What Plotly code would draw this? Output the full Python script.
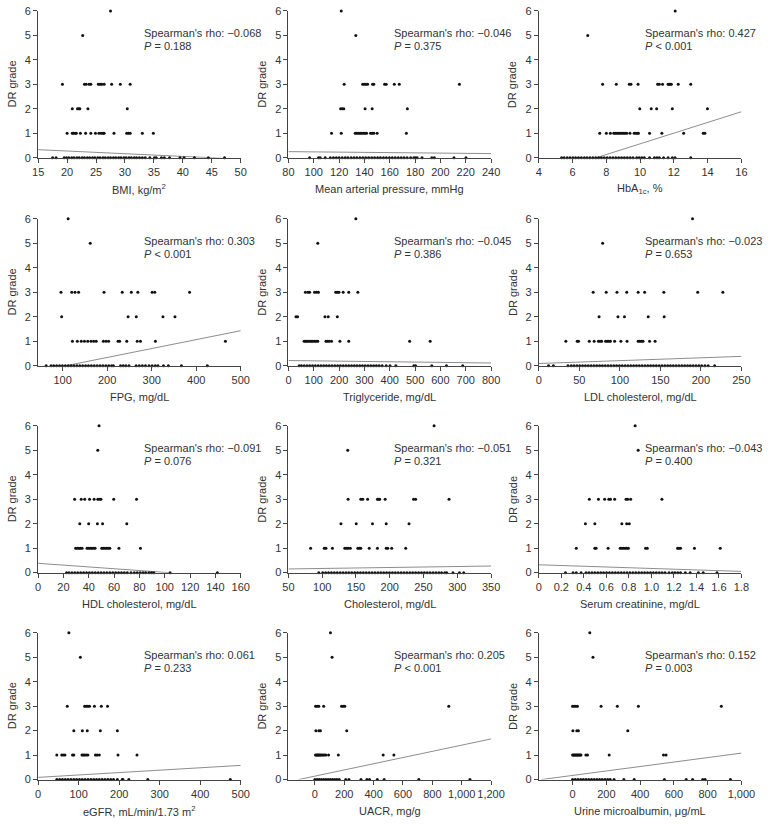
import plotly.graph_objects as go

# ---------------- DATA ----------------
# x values of points for each DR grade (0,1,2,3,5,6), one set per panel
bmi_g0 = [17.5, 18.1, 19.5, 19.9, 20.3, 20.8, 21.2, 21.7, 22.1, 22.6, 23.0, 23.5, 23.9, 24.4, 24.8, 25.3, 25.7, 26.2, 26.6, 27.1, 27.5, 28.0, 28.4, 28.9, 29.3, 29.8, 30.2, 30.7, 31.1, 31.6, 32.0, 32.5, 33.0, 33.5, 34.3, 35.1, 35.4, 36.3, 36.8, 37.7, 39.5, 40.2, 42.0, 44.4, 47.2]
bmi_g1 = [20.0, 20.9, 21.1, 21.4, 21.6, 22.3, 23.2, 24.1, 24.9, 25.5, 25.9, 26.2, 26.4, 28.1, 30.3, 30.6, 30.9, 33.0, 34.9]
bmi_g2 = [20.9, 21.8, 22.0, 22.2, 23.6, 30.4]
bmi_g3 = [19.2, 23.0, 23.3, 23.8, 24.1, 25.4, 25.7, 26.0, 26.4, 27.7, 29.2, 30.9]
bmi_g5 = [22.7]
bmi_g6 = [27.5]

map_g0 = [96.7, 103.7, 105.0, 109.0, 113.0, 115.5, 117.8, 120.0, 122.4, 124.8, 127.0, 129.5, 131.8, 134.0, 136.4, 138.7, 141.0, 143.3, 145.7, 148.0, 150.4, 152.6, 155.0, 157.3, 159.7, 162.0, 164.3, 166.7, 169.0, 171.3, 173.7, 176.5, 179.0, 180.3, 181.6, 185.5, 193.2, 195.2, 210.7, 220.2]
map_g1 = [114.0, 121.7, 132.7, 134.0, 135.3, 136.6, 137.9, 139.2, 140.5, 141.7, 144.8, 146.1, 147.4, 150.0, 173.1]
map_g2 = [121.2, 122.4, 123.7, 140.5, 146.1, 173.9]
map_g3 = [124.0, 138.6, 139.9, 141.2, 142.5, 146.4, 147.4, 155.9, 157.2, 163.6, 167.5, 215.0]
map_g5 = [133.2]
map_g6 = [121.7]

hba_g0 = [5.35, 5.5, 5.68, 5.85, 6.02, 6.18, 6.35, 6.52, 6.7, 6.86, 7.03, 7.2, 7.37, 7.54, 7.71, 7.88, 8.05, 8.22, 8.39, 8.56, 8.73, 8.9, 9.07, 9.24, 9.41, 9.58, 9.8, 9.95, 10.1, 10.25, 10.56, 10.85, 11.0, 11.14, 11.39, 11.66, 11.91, 12.07, 13.0]
hba_g1 = [7.61, 8.0, 8.24, 8.44, 8.53, 8.63, 8.73, 8.82, 8.92, 9.02, 9.11, 9.21, 9.4, 9.65, 9.75, 9.85, 9.9, 10.56, 11.29, 12.58, 13.74, 13.84]
hba_g2 = [9.98, 10.66, 10.98, 11.91, 13.99]
hba_g3 = [7.78, 8.59, 9.36, 9.46, 9.88, 11.04, 11.14, 11.33, 11.66, 11.72, 11.78, 11.85, 12.26, 13.0]
hba_g5 = [6.9]
hba_g6 = [12.08]

fpg_g0 = [63, 74, 80, 86.5, 93, 99.5, 106, 112.5, 119, 125.5, 132, 138.5, 145, 151.5, 158, 164.5, 171, 177.5, 184, 190.5, 197, 203.5, 210, 214, 230, 236, 242, 249, 265, 272, 279, 286, 294, 301, 308, 314, 326.5, 337.5, 366.7, 425]
fpg_g1 = [122.0, 133.0, 141.8, 149.0, 156.4, 163.7, 169.6, 175.4, 191.5, 197.4, 203.2, 224.4, 228.0, 244.1, 267.5, 274.8, 308.4, 465.6]
fpg_g2 = [97.8, 247.0, 265.4, 325.3, 352.3]
fpg_g3 = [96.3, 120.5, 127.8, 135.8, 192.9, 233.8, 254.3, 268.9, 301.0, 306.9, 385.0]
fpg_g5 = [162]
fpg_g6 = [112.4]

tg_g0 = [42.4, 51, 62, 73, 84, 95, 106, 117, 128, 139, 150, 161, 172, 183, 194, 205, 216, 227, 238, 249, 260, 270, 281, 292, 303, 314, 325, 336, 347, 358, 370, 386, 401, 424, 495, 502, 566, 624, 688]
tg_g1 = [61.7, 67, 72, 78, 85, 90, 96, 103, 109, 115.8, 148, 154, 161, 170, 203, 238, 478.5, 559.5]
tg_g2 = [29.6, 36, 144, 157, 193]
tg_g3 = [66.9, 77.2, 83.6, 102.9, 110.6, 118.3, 186.5, 193, 199.4, 216, 238, 274]
tg_g5 = [115.8]
tg_g6 = [266]

ldl_g0 = [12, 18, 36, 40, 43.5, 47, 50.5, 54, 57.5, 61, 64.5, 68, 71.5, 75, 78.5, 82, 85.5, 89, 92.5, 96, 99.5, 103, 106.5, 110, 113.5, 117, 120.5, 124, 127.5, 131, 134.5, 138, 141.5, 145, 148.5, 152, 155.5, 159, 162.5, 166, 169.5, 173, 176.5, 180, 183.5, 187, 190.5, 194, 197.5, 201, 205, 209, 217]
ldl_g1 = [33.4, 47.4, 49.0, 62.3, 68.3, 73.6, 75.6, 77.6, 82.4, 84.4, 86.4, 88.4, 93.6, 101.3, 108.9, 122.6, 124.6, 126.6, 128.6, 136.7, 143.5]
ldl_g2 = [74.4, 97.7, 105.7, 135.0, 154.7]
ldl_g3 = [67.1, 83.2, 96.5, 108.5, 122.6, 130.6, 154.3, 196.1, 227.1]
ldl_g5 = [78.8]
ldl_g6 = [189.7]

hdl_g0 = [22.4, 24.4, 26.7, 29, 31.3, 33.6, 35.9, 38.2, 40.5, 42.8, 45.1, 47.4, 49.7, 52, 54.3, 56.6, 58.9, 61.2, 63.5, 65.8, 68.1, 70.4, 73.3, 75.9, 78.2, 80.5, 82.8, 84.9, 87.5, 89.5, 91.3, 104.2, 141.5]
hdl_g1 = [29.6, 30.9, 32.2, 33.4, 34.7, 38.6, 39.9, 41.2, 42.4, 43.7, 45.0, 50.2, 51.4, 52.7, 54.0, 55.3, 56.6, 63.8, 80.8]
hdl_g2 = [32.9, 39.9, 46.8, 50.9, 70.0]
hdl_g3 = [28.8, 34.0, 36.8, 40.6, 44.2, 47.1, 48.4, 49.6, 59.7, 77.7]
hdl_g5 = [47.1]
hdl_g6 = [48.1]

chol_g0 = [94.9, 100.6, 105, 109.3, 113.6, 117.9, 122.2, 126.5, 130.8, 135.1, 139.4, 143.7, 148, 152.3, 156.6, 160.9, 165.2, 169.5, 173.8, 178.1, 182.4, 186.7, 191, 195.3, 199.6, 203.9, 208.2, 212.5, 216.8, 221.1, 225.4, 229.7, 234, 238.3, 242.6, 246.9, 251.2, 255.5, 259.8, 264.1, 268.4, 272.7, 276.7, 281.5, 284.4, 293.6, 303.2, 309.5]
chol_g1 = [82.8, 103.0, 105.5, 115.1, 133.4, 135.9, 138.3, 141.6, 152.7, 155.1, 157.1, 169.6, 181.7, 194.7, 197.1, 202.9, 223.6]
chol_g2 = [127.7, 150.3, 174.4, 194.7, 228.5]
chol_g3 = [138.3, 157.1, 160.0, 167.2, 181.7, 183.6, 185.0, 193.2, 235.2, 238.3, 287.8]
chol_g5 = [137.8]
chol_g6 = [265.6]

cr_g0 = [0.237, 0.304, 0.333, 0.376, 0.42, 0.446, 0.472, 0.498, 0.524, 0.55, 0.576, 0.602, 0.628, 0.654, 0.68, 0.706, 0.732, 0.758, 0.784, 0.81, 0.836, 0.862, 0.888, 0.914, 0.94, 0.966, 0.992, 1.018, 1.044, 1.07, 1.096, 1.122, 1.157, 1.186, 1.21, 1.235, 1.259, 1.302, 1.345, 1.418, 1.461, 1.583]
cr_g1 = [0.333, 0.498, 0.509, 0.616, 0.723, 0.738, 0.752, 0.767, 0.781, 0.796, 0.949, 0.964, 1.233, 1.244, 1.259, 1.383, 1.612]
cr_g2 = [0.414, 0.498, 0.738, 0.781, 0.804]
cr_g3 = [0.449, 0.53, 0.585, 0.622, 0.637, 0.674, 0.775, 0.79, 0.816, 1.094]
cr_g5 = [0.883]
cr_g6 = [0.856]

egfr_g0 = [46, 53, 60, 67, 74, 81, 88, 95, 102, 109, 116, 123, 130, 137, 144, 151, 158, 165, 172, 179, 186, 195.5, 207.6, 209.2, 223.7, 270.6, 474.2]
egfr_g1 = [46.0, 58.2, 62.2, 66.2, 84.8, 88.0, 108.2, 111.5, 114.7, 118.7, 122.8, 141.4, 145.4, 151.0, 197.1, 243.9]
egfr_g2 = [88.0, 109.0, 121.2, 153.5, 195.5]
egfr_g3 = [71.9, 114.7, 118.7, 122.8, 126.8, 138.9, 155.9, 171.2]
egfr_g5 = [104.2]
egfr_g6 = [75.9]

uacr_g0 = [0, 15, 30, 45, 60, 75, 90, 105, 120, 135, 150, 166, 210, 232, 314, 354, 372, 425, 471.6, 708, 1056]
uacr_g1 = [4, 10, 16, 22, 28, 34, 40, 48, 56, 64, 74, 93, 159.4, 465, 538]
uacr_g2 = [6.6, 26.6, 37.6, 217]
uacr_g3 = [4.4, 15.5, 26.6, 59.8, 181.5, 192.6, 203.7, 912]
uacr_g5 = [117]
uacr_g6 = [106]

umalb_g0 = [0, 16, 32, 48, 64, 80, 96, 112, 128, 144, 160, 176, 192, 208, 223, 246, 304, 365, 544, 673, 711, 771, 785, 935]
umalb_g1 = [0, 5, 10, 15, 20, 25, 30, 35, 40, 45, 50, 79, 88.5, 217, 538.5, 554]
umalb_g2 = [2, 25, 34.6, 327]
umalb_g3 = [0, 9.6, 19.2, 28.8, 169, 265, 390, 881]
umalb_g5 = [121]
umalb_g6 = [102]

dr_grades = [0, 1, 2, 3, 5, 6]

# fitted (regression) line end points, as drawn
bmi_fit_x, bmi_fit_y = [15, 50], [0.33, -0.055]
map_fit_x, map_fit_y = [80, 240], [0.25, 0.17]
hba_fit_x, hba_fit_y = [7.4, 16], [0.0, 1.88]
fpg_fit_x, fpg_fit_y = [108, 500], [0.0, 1.43]
tg_fit_x, tg_fit_y = [0, 800], [0.21, 0.11]
ldl_fit_x, ldl_fit_y = [0, 250], [0.09, 0.38]
hdl_fit_x, hdl_fit_y = [0, 103], [0.38, 0.0]
chol_fit_x, chol_fit_y = [50, 350], [0.15, 0.27]
cr_fit_x, cr_fit_y = [0, 1.8], [0.32, 0.05]
egfr_fit_x, egfr_fit_y = [0, 500], [0.09, 0.58]
uacr_fit_x, uacr_fit_y = [-111, 1200], [0.0, 1.66]
umalb_fit_x, umalb_fit_y = [-186, 1000], [0.0, 1.08]

# axis titles, statistics and ticks
x_titles = ["BMI, kg/m<sup>2</sup>", "Mean arterial pressure, mmHg", "HbA<sub>1c</sub>, %",
            "FPG, mg/dL", "Triglyceride, mg/dL", "LDL cholesterol, mg/dL",
            "HDL cholesterol, mg/dL", "Cholesterol, mg/dL", "Serum creatinine, mg/dL",
            "eGFR, mL/min/1.73 m<sup>2</sup>", "UACR, mg/g", "Urine microalbumin, μg/mL"]
rho_texts = ["−0.068", "−0.046", "0.427", "0.303", "−0.045", "−0.023",
             "−0.091", "−0.051", "−0.043", "0.061", "0.205", "0.152"]
p_texts = ["= 0.188", "= 0.375", "&lt; 0.001", "&lt; 0.001", "= 0.386", "= 0.653",
           "= 0.076", "= 0.321", "= 0.400", "= 0.233", "&lt; 0.001", "= 0.003"]
x_ranges = [[15, 50], [80, 240], [4, 16], [45, 500], [0, 800], [0, 250],
            [0, 160], [50, 350], [0, 1.8], [0, 500], [-180, 1200], [-200, 1000]]
bmi_ticks = [15, 20, 25, 30, 35, 40, 45, 50]
map_ticks = [80, 100, 120, 140, 160, 180, 200, 220, 240]
hba_ticks = [4, 6, 8, 10, 12, 14, 16]
fpg_ticks = [100, 200, 300, 400, 500]
tg_ticks = [0, 100, 200, 300, 400, 500, 600, 700, 800]
ldl_ticks = [0, 50, 100, 150, 200, 250]
hdl_ticks = [0, 20, 40, 60, 80, 100, 120, 140, 160]
chol_ticks = [50, 100, 150, 200, 250, 300, 350]
cr_ticks = [0, 0.2, 0.4, 0.6, 0.8, 1.0, 1.2, 1.4, 1.6, 1.8]
cr_ticktext = ["0", "0.2", "0.4", "0.6", "0.8", "1.0", "1.2", "1.4", "1.6", "1.8"]
egfr_ticks = [0, 100, 200, 300, 400, 500]
uacr_ticks = [0, 200, 400, 600, 800, 1000, 1200]
uacr_ticktext = ["0", "200", "400", "600", "800", "1,000", "1,200"]
umalb_ticks = [0, 200, 400, 600, 800, 1000]
umalb_ticktext = ["0", "200", "400", "600", "800", "1,000"]
y_ticks = [0, 1, 2, 3, 4, 5, 6]

# ---------------- FIGURE ----------------
groups = [
    (bmi_g0, bmi_g1, bmi_g2, bmi_g3, bmi_g5, bmi_g6),
    (map_g0, map_g1, map_g2, map_g3, map_g5, map_g6),
    (hba_g0, hba_g1, hba_g2, hba_g3, hba_g5, hba_g6),
    (fpg_g0, fpg_g1, fpg_g2, fpg_g3, fpg_g5, fpg_g6),
    (tg_g0, tg_g1, tg_g2, tg_g3, tg_g5, tg_g6),
    (ldl_g0, ldl_g1, ldl_g2, ldl_g3, ldl_g5, ldl_g6),
    (hdl_g0, hdl_g1, hdl_g2, hdl_g3, hdl_g5, hdl_g6),
    (chol_g0, chol_g1, chol_g2, chol_g3, chol_g5, chol_g6),
    (cr_g0, cr_g1, cr_g2, cr_g3, cr_g5, cr_g6),
    (egfr_g0, egfr_g1, egfr_g2, egfr_g3, egfr_g5, egfr_g6),
    (uacr_g0, uacr_g1, uacr_g2, uacr_g3, uacr_g5, uacr_g6),
    (umalb_g0, umalb_g1, umalb_g2, umalb_g3, umalb_g5, umalb_g6),
]
fits = [(bmi_fit_x, bmi_fit_y), (map_fit_x, map_fit_y), (hba_fit_x, hba_fit_y),
        (fpg_fit_x, fpg_fit_y), (tg_fit_x, tg_fit_y), (ldl_fit_x, ldl_fit_y),
        (hdl_fit_x, hdl_fit_y), (chol_fit_x, chol_fit_y), (cr_fit_x, cr_fit_y),
        (egfr_fit_x, egfr_fit_y), (uacr_fit_x, uacr_fit_y), (umalb_fit_x, umalb_fit_y)]
tick_vals = [bmi_ticks, map_ticks, hba_ticks, fpg_ticks, tg_ticks, ldl_ticks,
             hdl_ticks, chol_ticks, cr_ticks, egfr_ticks, uacr_ticks, umalb_ticks]
tick_texts = [None, None, None, None, None, None, None, None, cr_ticktext, None,
              uacr_ticktext, umalb_ticktext]

W, H = 770, 824
col_left = [33, 290, 547]
row_top = [5, 216, 426, 636]
plot_w, plot_h = 208, 149
FONT = "Arial, 'Liberation Sans', sans-serif"
TXT = "#333333"
AX = "#444444"

fig = go.Figure()
layout = dict(width=W, height=H, margin=dict(l=0, r=0, t=0, b=0),
              paper_bgcolor="white", plot_bgcolor="white", showlegend=False,
              font=dict(family=FONT, size=11, color=TXT))
annotations = []

for i in range(12):
    r, c = divmod(i, 3)
    k = i + 1
    xa = "x" if k == 1 else f"x{k}"
    ya = "y" if k == 1 else f"y{k}"
    xs, ys = [], []
    for grade, vals in zip(dr_grades, groups[i]):
        xs += vals
        ys += [grade] * len(vals)
    fx, fy = fits[i]
    fig.add_trace(go.Scatter(x=fx, y=fy, mode="lines", xaxis=xa, yaxis=ya,
                             line=dict(color="#808080", width=0.9), hoverinfo="skip"))
    fig.add_trace(go.Scatter(x=xs, y=ys, mode="markers", xaxis=xa, yaxis=ya,
                             cliponaxis=False,
                             marker=dict(size=3, color="#111111", line=dict(width=0))))

    x0 = col_left[c] / W
    x1 = (col_left[c] + plot_w) / W
    y1 = 1 - row_top[r] / H
    y0 = 1 - (row_top[r] + plot_h) / H
    axis_style = dict(showline=True, linecolor=AX, linewidth=1, ticks="outside",
                      ticklen=4, tickwidth=1, tickcolor=AX, showgrid=False,
                      zeroline=False, fixedrange=True,
                      tickfont=dict(family=FONT, size=11, color=TXT))
    xdict = dict(domain=[x0, x1], range=x_ranges[i], anchor=ya, tickmode="array",
                 tickvals=tick_vals[i], tickangle=0, **axis_style)
    if tick_texts[i] is not None:
        xdict["ticktext"] = tick_texts[i]
    ydict = dict(domain=[y0, y1], range=[0, 6], anchor=xa, tickmode="array",
                 tickvals=y_ticks, **axis_style)
    layout["xaxis" if k == 1 else f"xaxis{k}"] = xdict
    layout["yaxis" if k == 1 else f"yaxis{k}"] = ydict

    # statistics text
    annotations.append(dict(xref=f"{xa} domain", yref=f"{ya} domain", x=0, y=1,
                            xanchor="left", yanchor="middle", xshift=104, yshift=-22,
                            text=f"Spearman's rho: {rho_texts[i]}", showarrow=False,
                            font=dict(size=11, color=TXT)))
    annotations.append(dict(xref=f"{xa} domain", yref=f"{ya} domain", x=0, y=1,
                            xanchor="left", yanchor="middle", xshift=104, yshift=-35,
                            text=f"<i>P</i> {p_texts[i]}", showarrow=False,
                            font=dict(size=11, color=TXT)))
    # x axis title
    annotations.append(dict(xref=f"{xa} domain", yref=f"{ya} domain", x=0.5, y=0,
                            xanchor="center", yanchor="middle", yshift=-31,
                            text=x_titles[i], showarrow=False,
                            font=dict(size=11, color=TXT)))
    # y axis title
    annotations.append(dict(xref=f"{xa} domain", yref=f"{ya} domain", x=0, y=0.5,
                            xanchor="center", yanchor="middle", xshift=-26,
                            textangle=-90, text="DR grade", showarrow=False,
                            font=dict(size=11, color=TXT)))

layout["annotations"] = annotations
fig.update_layout(**layout)
fig.write_html("out.html", config={"displayModeBar": False},
               post_script="document.body.style.margin='0';document.body.style.overflow='hidden';")
